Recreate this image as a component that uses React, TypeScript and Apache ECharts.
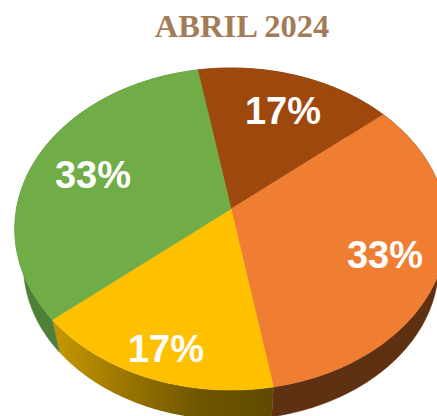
import React, { useEffect, useRef } from "react";
import * as echarts from "echarts";

const titleText = "ABRIL 2024";
const sliceNames = ["Marrón", "Naranja", "Amarillo", "Verde"];
const sliceValues = [1, 2, 1, 2];
const sliceColors = ["#9e480e", "#ef7d32", "#ffc000", "#70ad47"];
const wallColors: (string | string[])[] = ["#5e2b08", "#5e3113", ["#c89800", "#9a7600", "#6e5600", "#5f4a00"], "#4f8038"];
const labelPositions = [[283, 111], [385, 255], [166, 349], [93, 175]];

// Perspective projection of the pie disc
const CX = 231, CY = 209, A = 1725, B = 1275, D = 8.04;
const START_DEG = -10, WALL_SCALE = 0.96, WALL_DROP = 37;

const total = sliceValues.reduce((s, v) => s + v, 0);
const project = (deg: number, r = 1): [number, number] => {
  const t = (deg * Math.PI) / 180;
  const X = r * Math.sin(t), Y = -r * Math.cos(t);
  return [CX + (X * A) / (D - Y), CY + (Y * B) / (D - Y)];
};
const sliceRange = (i: number): [number, number] => {
  const before = sliceValues.slice(0, i).reduce((s, v) => s + v, 0);
  return [START_DEG + (before / total) * 360, START_DEG + ((before + sliceValues[i]) / total) * 360];
};
const arc = (a: number, b: number): [number, number][] => {
  const pts: [number, number][] = [];
  for (let k = 0; k <= 90; k++) pts.push(project(a + ((b - a) * k) / 90));
  return pts;
};
const drop = ([x, y]: [number, number]): [number, number] => [
  CX + (x - CX) * WALL_SCALE,
  CY + (y - CY) * WALL_SCALE + WALL_DROP,
];

const renderWall = (params: any) => {
  const i = params.dataIndex;
  const [a, b] = sliceRange(i);
  const top = arc(a, b);
  const pts = [...top, ...top.map(drop).reverse()];
  const c = wallColors[i];
  const fill = Array.isArray(c)
    ? new echarts.graphic.LinearGradient(0, 0, 1, 0, c.map((color, k) => ({ offset: k / (c.length - 1), color })))
    : c;
  return { type: "polygon", shape: { points: pts }, style: { fill, stroke: Array.isArray(c) ? "none" : c, lineWidth: 0.5 }, silent: true };
};
const renderTop = (params: any) => {
  const i = params.dataIndex;
  const [a, b] = sliceRange(i);
  return {
    type: "polygon",
    shape: { points: [[CX, CY], ...arc(a, b)] },
    style: { fill: sliceColors[i], stroke: sliceColors[i], lineWidth: 0.5 },
    silent: true,
  };
};
const renderLabel = (params: any, api: any) => {
  const i = params.dataIndex;
  const pct = Math.round((api.value(0) / total) * 100);
  return {
    type: "text",
    x: labelPositions[i][0],
    y: labelPositions[i][1],
    style: {
      text: `${pct}%`,
      fill: "#ffffff",
      font: 'bold 38px "Liberation Sans", Arial, sans-serif',
      align: "center",
      verticalAlign: "middle",
    },
    silent: true,
  };
};

export default function App() {
  const ref = useRef<HTMLDivElement>(null);
  useEffect(() => {
    document.body.style.margin = "0";
    const chart = echarts.init(ref.current!, undefined, { renderer: "svg" });
    const data = sliceValues.map((value, i) => ({ name: sliceNames[i], value }));
    const base = { type: "custom", coordinateSystem: "none", data };
    chart.setOption({
      animation: false,
      title: {
        text: titleText,
        left: 237,
        top: 4,
        textAlign: "center",
        textStyle: { color: "#a37c57", fontFamily: '"Liberation Serif", serif', fontWeight: "bold", fontSize: 32.5 },
      },
      series: [
        { ...base, z: 1, renderItem: renderWall },
        { ...base, z: 2, renderItem: renderTop },
        { ...base, z: 3, renderItem: renderLabel },
      ],
    });
    return () => chart.dispose();
  }, []);
  return <div ref={ref} style={{ width: 437, height: 416 }} />;
}
